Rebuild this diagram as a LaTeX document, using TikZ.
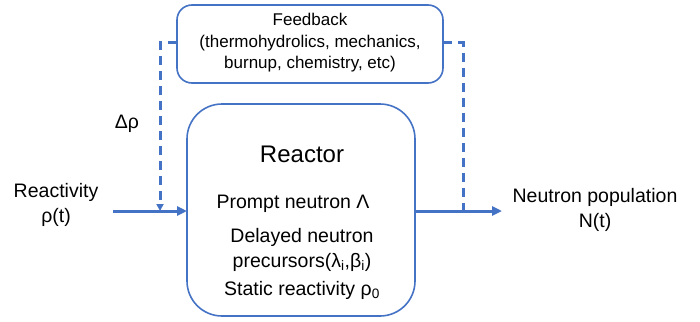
\documentclass[tikz,border=0pt]{standalone}
\usepackage{fontspec}
\setmainfont{Liberation Sans}
\usetikzlibrary{arrows.meta}
\definecolor{lineblue}{RGB}{68,114,196}
\begin{document}
\begin{tikzpicture}[x=1pt,y=-1pt,
  boxstyle/.style={draw=lineblue,line width=1.6pt,rounded corners=#1},
  flow/.style={draw=lineblue,line width=3pt,-{Triangle[length=10pt,width=9pt]}},
  fb/.style={draw=lineblue,line width=3pt,dash pattern=on 9pt off 6pt},
  txt/.style={font=\fontsize{19.5}{25}\selectfont,align=center,inner sep=0pt}]
\useasboundingbox (0,0) rectangle (700,321);
% boxes
\path[boxstyle=15pt] (177,5) rectangle (443,83);
\coordinate (fbW) at (177,43);
\coordinate (fbE) at (443,43);
\path[boxstyle=35pt] (187,104) rectangle (415,316);
\coordinate (rW) at (187,211);
\coordinate (rE) at (415,211);
% texts
\node[txt,font=\fontsize{17}{21.5}\selectfont] (fbtxt) at (310,43) {Feedback\\(thermohydrolics, mechanics,\\burnup, chemistry, etc)};
\node[txt,font=\fontsize{24}{28}\selectfont] (title) at (302,154) {Reactor};
\node[txt] (prompt) at (293,204) {Prompt neutron Λ};
\node[txt] (delayed) at (302,250) {Delayed neutron\\precursors(λ\textsubscript{i},β\textsubscript{i})};
\node[txt] (static) at (302,290) {Static reactivity ρ\textsubscript{0}};
\node[txt] (drho) at (127,124) {Δρ};
\node[txt] (react) at (56,205) {Reactivity\\ρ(t)};
\node[txt] (npop) at (595,210) {Neutron population\\N(t)};
% connectors
\coordinate (inS) at (113,211);
\coordinate (outE) at (502,211);
\coordinate (dl) at (160,43);
\coordinate (dlb) at (160,211);
\coordinate (dr) at (463,43);
\coordinate (drb) at (463,211);
\draw[flow] (inS) -- (rW);
\draw[flow] (rE) -- (outE);
\draw[fb,-{Triangle[length=7pt,width=7pt]}] (fbW) -- (dl) -- (dlb);
\draw[fb] (fbE) -- (dr) -- (drb);
\end{tikzpicture}
\end{document}
